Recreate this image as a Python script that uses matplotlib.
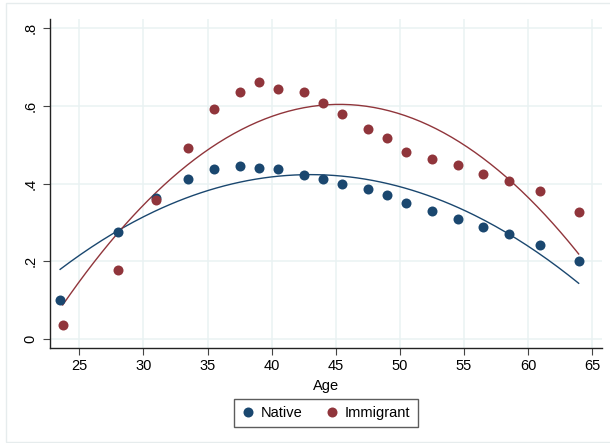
import numpy as np
import matplotlib
matplotlib.use("Agg")
import matplotlib.pyplot as plt
from matplotlib.patches import Rectangle

plt.rcParams['font.family'] = ['Liberation Sans', 'DejaVu Sans']

age_native = [23.5, 28.05, 31.0, 33.5, 35.5, 37.5, 39.0, 40.5, 42.5, 44.0, 45.5,
              47.5, 49.0, 50.5, 52.5, 54.5, 56.5, 58.5, 60.95, 63.95]
native = [0.100, 0.275, 0.364, 0.412, 0.437, 0.445, 0.440, 0.439, 0.423, 0.411, 0.398,
          0.385, 0.370, 0.349, 0.329, 0.308, 0.288, 0.271, 0.241, 0.200]
age_immig = [23.7, 28.05, 31.0, 33.5, 35.5, 37.5, 39.0, 40.5, 42.5, 44.0, 45.5,
             47.5, 49.0, 50.5, 52.5, 54.5, 56.5, 58.5, 60.95, 63.95]
immigrant = [0.036, 0.177, 0.359, 0.492, 0.592, 0.637, 0.662, 0.643, 0.636, 0.607, 0.579,
             0.542, 0.518, 0.481, 0.464, 0.448, 0.424, 0.407, 0.382, 0.326]

xticks = [25, 30, 35, 40, 45, 50, 55, 60, 65]
yticks = [0, 0.2, 0.4, 0.6, 0.8]
ytick_labels = ["0", ".2", ".4", ".6", ".8"]
labels = ["Native", "Immigrant"]

navy = "#1a476f"
maroon = "#90353b"
grid_c = "#eaf2f3"

W, H = 610, 443
fig = plt.figure(figsize=(W / 100, H / 100), dpi=100)
fig.patch.set_facecolor("white")
# outer graph region border
fig.add_artist(Rectangle((5.7 / W, 1 - 441.7 / H), (640 - 5.7) / W, (441.7 - 3.3) / H,
                         transform=fig.transFigure, fill=False, edgecolor="#e6eced",
                         linewidth=1.0))

L, R, T, B = 50, 602, 19, 348.3
ax = fig.add_axes([L / W, 1 - B / H, (R - L) / W, (B - T) / H])
ax.set_xlim(22.71, 65.77)
ax.set_ylim(-0.024, 0.824)

ax.set_xticks(xticks)
ax.set_yticks(yticks)
ax.set_yticklabels(ytick_labels, rotation=90, va="center")
ax.grid(True, color=grid_c, linewidth=1.1)
ax.set_axisbelow(True)
for s in ["top", "right"]:
    ax.spines[s].set_visible(False)
for s in ["left", "bottom"]:
    ax.spines[s].set_color("#222222")
    ax.spines[s].set_linewidth(1.0)
ax.tick_params(axis="both", length=5, width=0.8, color="#444444", labelsize=10.5)
ax.tick_params(axis="y", pad=4)
ax.tick_params(axis="x", pad=3)

# quadratic fits
for xs, ys, col in [(age_native, native, navy), (age_immig, immigrant, maroon)]:
    xs = np.asarray(xs); ys = np.asarray(ys)
    coef = np.polyfit(xs, ys, 2)
    xx = np.linspace(xs.min(), xs.max(), 200)
    ax.plot(xx, np.polyval(coef, xx), color=col, linewidth=1.0, zorder=2)

h1, = ax.plot(age_native, native, "o", color=navy, markersize=7.2,
              markeredgewidth=0, zorder=3, label=labels[0])
h2, = ax.plot(age_immig, immigrant, "o", color=maroon, markersize=7.2,
              markeredgewidth=0, zorder=3, label=labels[1])

ax.set_xlabel("Age", fontsize=10.5, labelpad=4)

leg = fig.legend(handles=[h1, h2], labels=labels, loc="center",
                 bbox_to_anchor=(326 / W, 1 - 413 / H), ncol=2, frameon=True,
                 fancybox=False, fontsize=10.5, handlelength=0.8,
                 handletextpad=0.5, columnspacing=1.6, borderpad=0.5,
                 markerscale=1.0)
leg.get_frame().set_edgecolor("#333333")
leg.get_frame().set_linewidth(1.0)

fig.savefig("out.png", dpi=100)
